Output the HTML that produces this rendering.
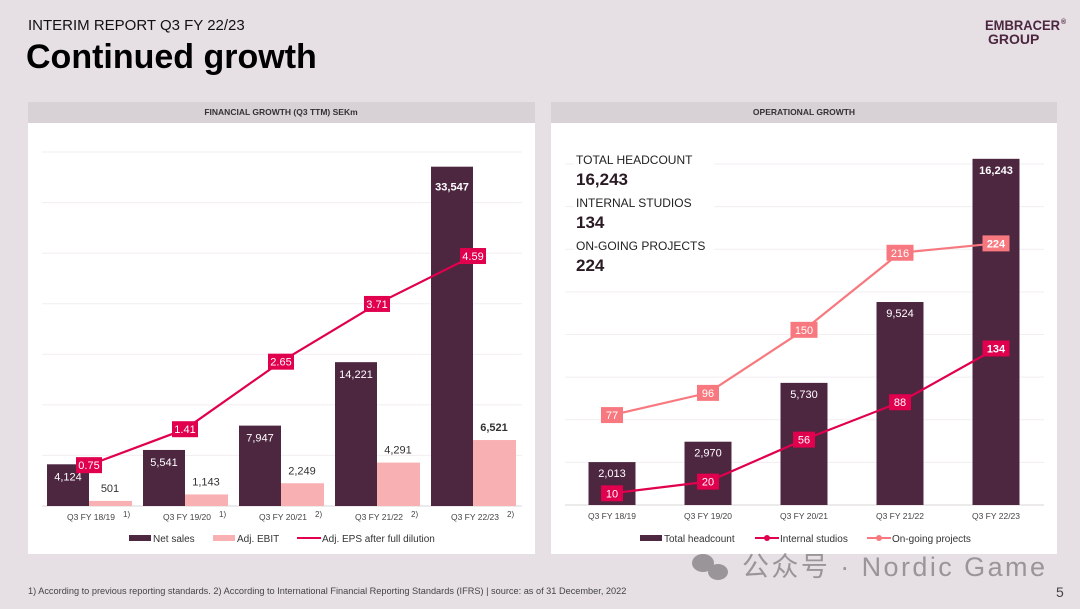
<!DOCTYPE html>
<html><head><meta charset="utf-8"><style>
body{margin:0;width:1080px;height:609px;background:#e6e0e5;font-family:"Liberation Sans","Noto Sans CJK SC",sans-serif;overflow:hidden;position:relative}
svg{position:absolute;left:0;top:0}
</style></head><body>
<svg id="s" width="1080" height="609">
<text x="28" y="30" font-size="15" fill="#111">INTERIM REPORT Q3 FY 22/23</text>
<text x="26" y="68" font-size="34" font-weight="bold" fill="#000">Continued growth</text>
<g fill="#4d2640" font-weight="bold" font-size="14">
<text x="985" y="30" textLength="75" lengthAdjust="spacingAndGlyphs">EMBRACER</text><text x="1061" y="24" font-size="7">®</text>
<text x="988" y="44">GROUP</text></g>
<rect x="28" y="102" width="507" height="452" fill="#fff"/>
<rect x="28" y="102" width="507" height="21" fill="#d8d1d6"/>
<text x="281" y="115" font-size="8.5" font-weight="bold" fill="#333" text-anchor="middle">FINANCIAL GROWTH (Q3 TTM) SEKm</text>
<rect x="551" y="102" width="506" height="452" fill="#fff"/>
<rect x="551" y="102" width="506" height="21" fill="#d8d1d6"/>
<text x="804" y="115" font-size="8.5" font-weight="bold" fill="#333" text-anchor="middle">OPERATIONAL GROWTH</text>
<g id="c1"></g><g id="c2"></g>
<g fill="#222">
<rect x="574" y="152" width="140" height="14" fill="#fff"/>
<rect x="574" y="195" width="140" height="14" fill="#fff"/>
<rect x="574" y="238" width="140" height="14" fill="#fff"/>
<text x="576" y="164" font-size="12">TOTAL HEADCOUNT</text>
<text x="576" y="185" font-size="17" font-weight="bold" fill="#2a1a24">16,243</text>
<text x="576" y="207" font-size="12">INTERNAL STUDIOS</text>
<text x="576" y="228" font-size="17" font-weight="bold" fill="#2a1a24">134</text>
<text x="576" y="250" font-size="12">ON-GOING PROJECTS</text>
<text x="576" y="271" font-size="17" font-weight="bold" fill="#2a1a24">224</text>
</g>
<text x="28" y="594" font-size="9.2" fill="#444">1) According to previous reporting standards. 2) According to International Financial Reporting Standards (IFRS) | source: as of 31 December, 2022</text>
<text x="1056" y="597" font-size="14" fill="#444">5</text>
<g fill="#9a9598">
<ellipse cx="703" cy="563" rx="11" ry="9"/><ellipse cx="718" cy="572" rx="10" ry="8"/>
<text x="742" y="576" font-size="27" textLength="303" lengthAdjust="spacing">公众号 · Nordic Game</text></g>
</svg>
<script>
const NS="http://www.w3.org/2000/svg";
function mk(p,t,a){const e=document.createElementNS(NS,t);for(const k in a)e.setAttribute(k,a[k]);p.appendChild(e);return e;}
const finCats=["Q3 FY 18/19","Q3 FY 19/20","Q3 FY 20/21","Q3 FY 21/22","Q3 FY 22/23"];
const finNotes=["1)","1)","2)","2)","2)"];
const netSales=[4124,5541,7947,14221,33547];
const adjEbit=[501,1143,2249,4291,6521];
const eps=[0.75,1.41,2.65,3.71,4.59];
const opCats=["Q3 FY 18/19","Q3 FY 19/20","Q3 FY 20/21","Q3 FY 21/22","Q3 FY 22/23"];
const headcount=[2013,2970,5730,9524,16243];
const studios=[10,20,56,88,134];
const projects=[77,96,150,216,224];
const fmt=v=>v.toLocaleString('en-US');
const DARK="#4d2640",PINK="#f9b0b2",RED="#e0004d",LPINK="#f7797f";
// chart 1
(function(){
const g=document.getElementById('c1');
const base=506,top=152,x0=41,cw=96;
const y=v=>base-(v/35000)*(base-top);
const ye=v=>base-(v/6.5)*(base-top);
const cx=i=>x0+cw*i+48;
for(let k=0;k<=7;k++){const l=mk(g,'line',{x1:42,x2:522,y1:y(k*5000),y2:y(k*5000),stroke:k?"#f2eef1":"#d8d4d7","stroke-width":1});

}
netSales.forEach((v,i)=>{const r=mk(g,'rect',{x:cx(i)-42,y:y(v),width:42,height:base-y(v),fill:DARK});


const t=mk(g,'text',{x:cx(i)-21,y:y(v)+(i==4?24:16),"font-size":11,fill:"#fff","text-anchor":"middle","font-weight":i==4?"bold":"normal"});t.textContent=fmt(v);

});
adjEbit.forEach((v,i)=>{const r=mk(g,'rect',{x:cx(i),y:y(v),width:43,height:base-y(v),fill:PINK});


const t=mk(g,'text',{x:cx(i)+21,y:y(v)-9,"font-size":11,fill:"#333","text-anchor":"middle","font-weight":i==4?"bold":"normal"});t.textContent=fmt(v);

});
const pl=mk(g,'polyline',{points:eps.map((v,i)=>cx(i)+","+ye(v)).join(" "),fill:"none",stroke:RED,"stroke-width":2.2});


eps.forEach((v,i)=>{const r=mk(g,'rect',{x:cx(i)-13,y:ye(v)-8,width:26,height:16,fill:RED});


const t=mk(g,'text',{x:cx(i),y:ye(v)+4,"font-size":11,fill:"#fff","text-anchor":"middle"});t.textContent=v.toFixed(2);

});
finCats.forEach((c,i)=>{const t=mk(g,'text',{x:cx(i)+2,y:520,"font-size":8.5,fill:"#444","text-anchor":"middle"});t.textContent=c;


const n=mk(g,'text',{x:cx(i)+34,y:517,"font-size":8,fill:"#444"});n.textContent=finNotes[i];

});
const lg=mk(g,'g',{});
mk(lg,'rect',{x:129,y:535,width:22,height:6,fill:DARK});
let t=mk(lg,'text',{x:153,y:542,"font-size":10,fill:"#333"});t.textContent="Net sales";
mk(lg,'rect',{x:213,y:535,width:22,height:6,fill:PINK});
t=mk(lg,'text',{x:237,y:542,"font-size":10,fill:"#333"});t.textContent="Adj. EBIT";
mk(lg,'line',{x1:297,x2:321,y1:538,y2:538,stroke:RED,"stroke-width":2});
t=mk(lg,'text',{x:322,y:542,"font-size":10,fill:"#333"});t.textContent="Adj. EPS after full dilution";
})();
// chart 2
(function(){
const g=document.getElementById('c2');
const base=505,top=164,x0=564,cw=96;
const y=v=>base-(v/16000)*(base-top);
const yl=v=>base-(v/292)*(base-top);
const cx=i=>x0+cw*i+48;
for(let k=0;k<=8;k++){const l=mk(g,'line',{x1:565,x2:1044,y1:y(k*2000),y2:y(k*2000),stroke:k?"#f2eef1":"#d8d4d7","stroke-width":1});

}
headcount.forEach((v,i)=>{const r=mk(g,'rect',{x:cx(i)-23.5,y:y(v),width:47,height:base-y(v),fill:DARK});


const t=mk(g,'text',{x:cx(i),y:y(v)+15,"font-size":11,fill:"#fff","text-anchor":"middle","font-weight":i==4?"bold":"normal"});t.textContent=fmt(v);

});
[[projects,LPINK,'projects'],[studios,RED,'studios']].forEach(([arr,col,nm])=>{
const pl=mk(g,'polyline',{points:arr.map((v,i)=>cx(i)+","+yl(v)).join(" "),fill:"none",stroke:col,"stroke-width":2.2});


arr.forEach((v,i)=>{const w=v>=100?27:22;const r=mk(g,'rect',{x:cx(i)-w/2,y:yl(v)-8,width:w,height:16,fill:col});


const t=mk(g,'text',{x:cx(i),y:yl(v)+4,"font-size":11,fill:"#fff","text-anchor":"middle","font-weight":i==4?"bold":"normal"});t.textContent=v;

});});
opCats.forEach((c,i)=>{const t=mk(g,'text',{x:cx(i),y:519,"font-size":8.5,fill:"#444","text-anchor":"middle"});t.textContent=c;

});
const lg=mk(g,'g',{});
mk(lg,'rect',{x:640,y:535,width:22,height:6,fill:DARK});
let t=mk(lg,'text',{x:664,y:542,"font-size":10,fill:"#333"});t.textContent="Total headcount";
mk(lg,'line',{x1:755,x2:779,y1:538,y2:538,stroke:RED,"stroke-width":2});mk(lg,'circle',{cx:767,cy:538,r:3,fill:RED});
t=mk(lg,'text',{x:780,y:542,"font-size":10,fill:"#333"});t.textContent="Internal studios";
mk(lg,'line',{x1:867,x2:891,y1:538,y2:538,stroke:LPINK,"stroke-width":2});mk(lg,'circle',{cx:879,cy:538,r:3,fill:LPINK});
t=mk(lg,'text',{x:892,y:542,"font-size":10,fill:"#333"});t.textContent="On-going projects";
})();
</script>
</body></html>
